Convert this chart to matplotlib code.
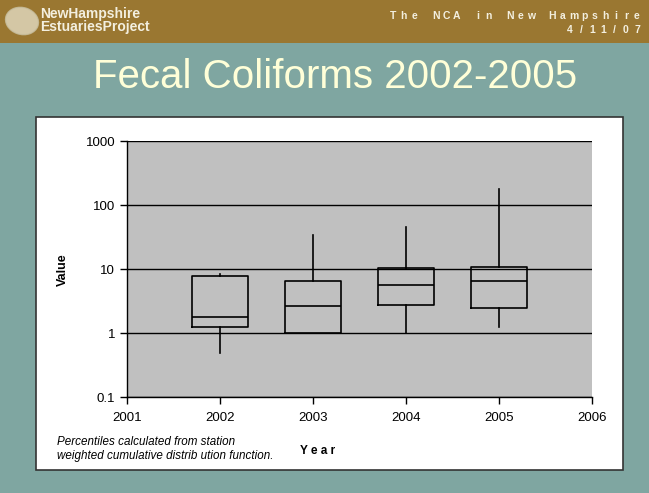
import matplotlib
matplotlib.use('Agg')
import matplotlib.pyplot as plt
from matplotlib.patches import Rectangle, Ellipse
from matplotlib.ticker import FixedLocator, NullLocator

plt.rcParams['font.family'] = ['Liberation Sans', 'DejaVu Sans']

# dados (percentis por ano)
years = [2002, 2003, 2004, 2005]
whislo = [0.49, 1.0, 1.0, 1.22]
q1 = [1.22, 1.0, 2.7, 2.5]
med = [1.78, 2.6, 5.6, 6.6]
q3 = [7.7, 6.6, 10.3, 10.6]
whishi = [8.3, 34, 46, 175]

xticks = [2001, 2002, 2003, 2004, 2005, 2006]
yticks = [0.1, 1, 10, 100, 1000]
ytick_labels = ['0.1', '1', '10', '100', '1000']

W, H = 649, 493
fig = plt.figure(figsize=(W / 100, H / 100), dpi=100)
fig.patch.set_facecolor('#7fa6a1')


def spaced(text, x_right, y, pitch, **kw):
    # texto com espaçamento fixo entre letras, alinhado à direita
    n = len(text)
    for i, ch in enumerate(text):
        x = x_right - (n - 1 - i) * pitch
        fig.text(x / W, 1 - y / H, ch, ha='center', va='center', **kw)


# faixa superior marrom
fig.patches.append(Rectangle((0, 1 - 43 / H), 1, 43 / H, transform=fig.transFigure,
                             facecolor='#9a7731', edgecolor='none', zorder=0))
# logotipo (concha estilizada)
fig.patches.append(Ellipse((22 / W, 1 - 21 / H), 32 / W, 28 / H, angle=25,
                           transform=fig.transFigure, facecolor='#e3dcc3',
                           edgecolor='#c9c0a0', alpha=0.8, zorder=1))
fig.text(40 / W, 1 - 14 / H, 'NewHampshire', color='#f3efdf', fontsize=10,
         fontweight='bold', va='center', ha='left')
fig.text(40 / W, 1 - 27 / H, 'EstuariesProject', color='#f3efdf', fontsize=10,
         fontweight='bold', va='center', ha='left')
spaced('The NCA in New Hampshire', 637, 16, 10.6, color='#f3efdf',
       fontsize=7.5, fontweight='bold')
spaced('4/11/07', 637, 30, 11.2, color='#f3efdf', fontsize=7.5, fontweight='bold')

# título
fig.text(335 / W, 1 - 77 / H, 'Fecal Coliforms 2002-2005', color='#ffffd8',
         fontsize=29, ha='center', va='center')

# painel branco
fig.patches.append(Rectangle((36 / W, 1 - 470 / H), 587 / W, 353 / H,
                             transform=fig.transFigure, facecolor='white',
                             edgecolor='#333333', linewidth=1.2, zorder=1))

ax = fig.add_axes([127 / W, 1 - 397 / H, 465 / W, 256 / H])
ax.set_zorder(3)
ax.set_facecolor('#c0c0c0')

stats = []
for i in range(len(years)):
    stats.append({'whislo': whislo[i], 'q1': q1[i], 'med': med[i],
                  'q3': q3[i], 'whishi': whishi[i]})

ax.bxp(stats, positions=years, widths=0.6, showfliers=False, showcaps=False,
       boxprops=dict(color='black', linewidth=1.2),
       medianprops=dict(color='black', linewidth=1.2),
       whiskerprops=dict(color='black', linewidth=1.2), zorder=3)

ax.set_yscale('log')
ax.set_ylim(0.1, 1000)
ax.set_xlim(2001, 2006)
ax.yaxis.set_major_locator(FixedLocator(yticks))
ax.set_yticklabels(ytick_labels)
ax.yaxis.set_minor_locator(NullLocator())
ax.set_xticks(xticks)
ax.set_xticklabels([str(x) for x in xticks])
ax.grid(axis='y', color='black', linewidth=1.0)
ax.set_axisbelow(True)

for s in ['top', 'right']:
    ax.spines[s].set_visible(False)
for s in ['left', 'bottom']:
    ax.spines[s].set_color('black')
    ax.spines[s].set_linewidth(1.0)
ax.tick_params(axis='both', labelsize=9.5, length=5, width=1, color='black')
ax.tick_params(axis='x', pad=6)

fig.text(63 / W, 1 - 270 / H, 'Value', fontsize=9, fontweight='bold', rotation=90,
         ha='center', va='center', zorder=4)
fig.text(318 / W, 1 - 451 / H, 'Y e a r', fontsize=8.5, fontweight='bold',
         ha='center', va='center', zorder=4)
fig.text(57 / W, 1 - 442 / H, 'Percentiles calculated from station', fontsize=8.4,
         style='italic', ha='left', va='center', zorder=4)
fig.text(57 / W, 1 - 456 / H, 'weighted cumulative distrib ution function.', fontsize=8.4,
         style='italic', ha='left', va='center', zorder=4)

fig.savefig('out.png', dpi=100)
